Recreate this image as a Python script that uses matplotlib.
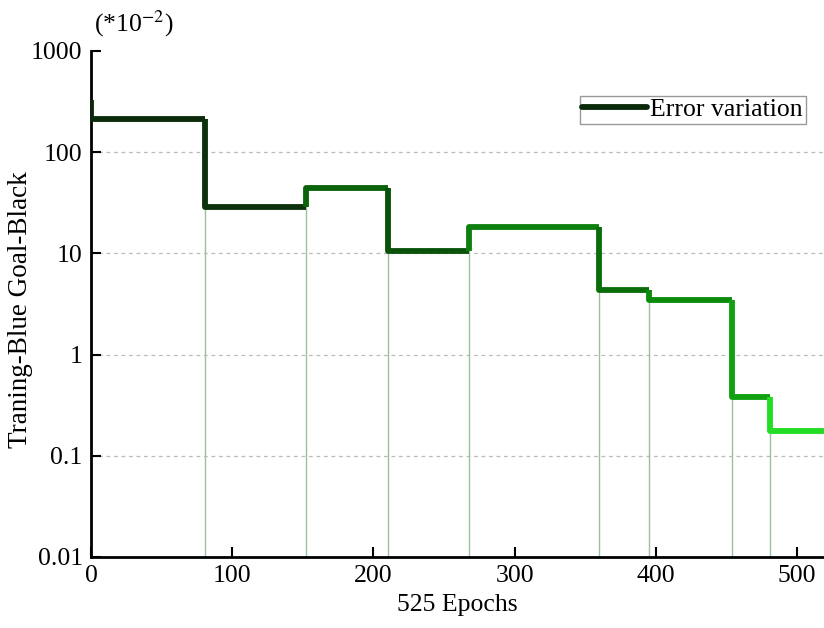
import numpy as np
import matplotlib.pyplot as plt

plt.rcParams['font.family'] = ['Liberation Serif', 'DejaVu Serif']
plt.rcParams['mathtext.fontset'] = 'stix'

# ---- data ----
start_value = 328                      # short spike at epoch 0
change_epochs = [0, 81, 152, 210, 268, 360, 395, 454, 481]
levels = [213, 29, 44, 10.6, 18.2, 4.35, 3.47, 0.38, 0.176]
last_epoch = 525

seg_colors = ['#0b2a0b', '#0d300d', '#0a620a', '#0a520a', '#0f800f',
              '#0b6c0b', '#0b8a0b', '#10a010', '#22dd22']

fig = plt.figure(figsize=(8.24, 6.28), dpi=100)
ax = fig.add_axes([0.1104, 0.1131, 0.8896, 0.8057])

ends = change_epochs[1:] + [last_epoch]
prev = start_value
for i, (x0, x1, y) in enumerate(zip(change_epochs, ends, levels)):
    # thin drop line from the axis up to the step
    if i > 0:
        ax.plot([x0, x0], [0.01, max(prev, y)], color='#9cbf9c', lw=1.0, zorder=2)
    ax.plot([x0, x0, x1], [prev, y, y], color=seg_colors[i], lw=4.2,
            solid_joinstyle='round', solid_capstyle='butt', zorder=3)
    prev = y

# legend entry
ax.plot([], [], color=seg_colors[0], lw=4.2, solid_capstyle='round',
        label='Error variation')
leg = ax.legend(loc='upper right', bbox_to_anchor=(0.975, 0.912), fontsize=18.5,
                handlelength=2.5, handletextpad=0.15, borderpad=0.1,
                borderaxespad=0, fancybox=False, framealpha=1)
leg.get_frame().set_edgecolor('#999999')
leg.get_frame().set_linewidth(1.0)

ax.set_yscale('log')
ax.set_ylim(0.01, 1000)
ax.set_xlim(0, 519)
ax.set_yticks([0.01, 0.1, 1, 10, 100, 1000])
ax.set_yticklabels(['0.01', '0.1', '1', '10', '100', '1000'])
ax.yaxis.set_minor_locator(plt.NullLocator())
ax.set_xticks([0, 100, 200, 300, 400, 500])
ax.tick_params(direction='in', length=7, width=1.5, labelsize=18.5, pad=6)

for y in [0.1, 1, 10, 100]:
    ax.axhline(y, color='#bbbbbb', lw=0.9, ls=(0, (3, 3)), zorder=1)

for side in ['top', 'right']:
    ax.spines[side].set_visible(False)
for side in ['left', 'bottom']:
    ax.spines[side].set_linewidth(2.0)

ax.set_xlabel('525 Epochs', fontsize=18.5, labelpad=5)
ax.set_ylabel('Traning-Blue Goal-Black', fontsize=19.5)
ax.yaxis.set_label_coords(-0.079, 0.488)
fig.text(0.114, 0.962, '(*10$^{-2}$)', fontsize=18.5, ha='left', va='center')

fig.savefig('out.png', dpi=100)
